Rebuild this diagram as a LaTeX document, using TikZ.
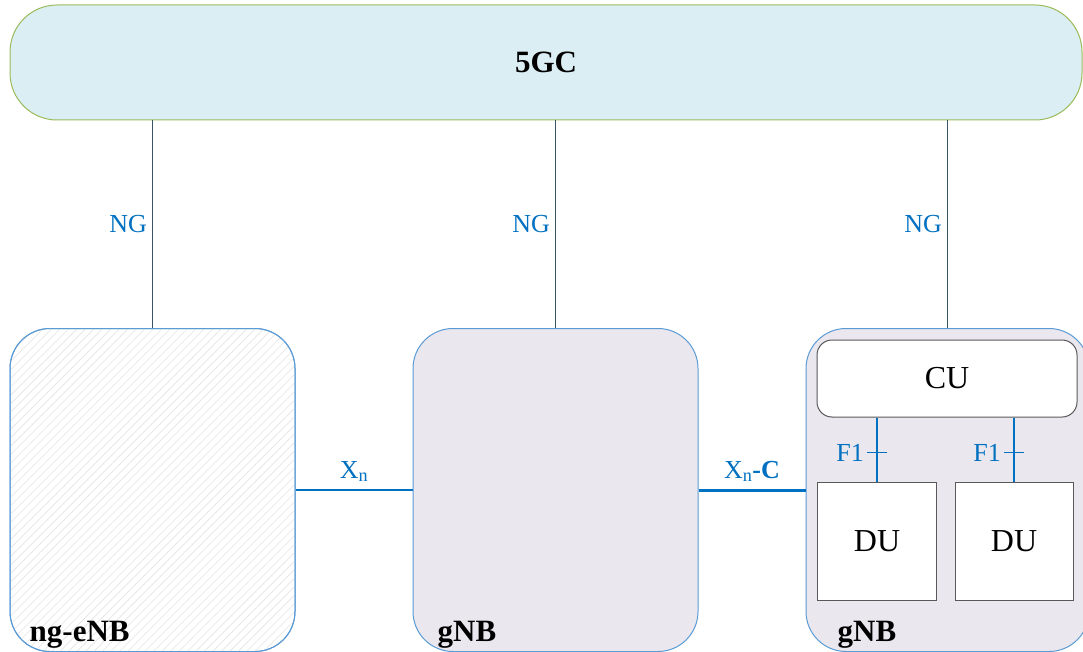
\documentclass[tikz,border=0pt]{standalone}
\usepackage{fontspec}
\setmainfont{Liberation Serif}
\usetikzlibrary{patterns.meta}
\definecolor{coreFill}{RGB}{218,238,243}
\definecolor{coreEdge}{RGB}{155,187,89}
\definecolor{nodeEdge}{RGB}{91,155,213}
\definecolor{gnbFill}{RGB}{234,231,239}
\definecolor{ifBlue}{RGB}{0,112,192}
\definecolor{ngLine}{RGB}{55,85,100}
\definecolor{boxEdge}{RGB}{89,89,89}
\definecolor{hatch}{RGB}{228,228,228}
\tikzset{
  x=1pt, y=-1pt,
  ran/.style={draw=nodeEdge, line width=1pt, rectangle, rounded corners=40pt, inner sep=0pt,
    minimum width=#1, minimum height=323pt},
  unitbox/.style={draw=boxEdge, line width=1pt, fill=white, rectangle, inner sep=0pt,
    font=\fontsize{32}{36}\selectfont},
  ngwire/.style={draw=ngLine, line width=1.3pt},
  xwire/.style={draw=ifBlue, line width=1.6pt},
  iflabel/.style={text=ifBlue, inner sep=0pt, font=\fontsize{26}{29}\selectfont},
  namelabel/.style={anchor=base west, inner sep=0pt, font=\fontsize{31}{34}\selectfont\bfseries},
}
\begin{document}
\begin{tikzpicture}
\useasboundingbox (0,0) rectangle (1083,652);
\clip (0,0) rectangle (1083,652);

% core network
\node (core) [draw=coreEdge, fill=coreFill, line width=1pt, rectangle, rounded corners=47pt,
  minimum width=1072pt, minimum height=115pt, inner sep=0pt,
  font=\fontsize{31}{34}\selectfont\bfseries] at (546,62.5) {5GC};

% radio nodes
\node (enb) [ran=285pt, fill=white] at (152.5,490) {};
\path[pattern={Lines[angle=45, distance=6pt, line width=0.6pt]}, pattern color=hatch,
  rounded corners=40pt] (10.5,329) rectangle (294.5,651);
\node[ran=285pt] at (enb) {};
\node (gnbA) [ran=285pt, fill=gnbFill] at (555.5,490) {};
\node (gnbB) [ran=283pt, fill=gnbFill] at (947.5,490) {};

% split gNB: central unit and distributed units
\node (cu) [unitbox, rounded corners=15pt, minimum width=260pt, minimum height=77pt] at (947,378.5) {CU};
\node (du1) [unitbox, minimum width=119pt, minimum height=118pt] at (877,541) {DU};
\node (du2) [unitbox, minimum width=118pt, minimum height=118pt] at (1014,541) {DU};

% NG interfaces
\foreach \n in {enb, gnbA, gnbB}{
  \draw[ngwire] (\n.north |- core.south) -- (\n.north)
    node[midway, iflabel, anchor=east, xshift=-5pt] {NG};
}

% Xn interfaces
\draw[xwire, line width=2pt] (enb.east) -- (gnbA.west)
  node[midway, iflabel, anchor=base, yshift=12pt] {X\textsubscript{n}};
\draw[xwire, line width=3pt] (gnbA.east) -- (gnbB.west)
  node[midway, iflabel, anchor=base, yshift=12pt] {X\textsubscript{n}\textbf{-C}};

% F1 interfaces
\foreach \d in {du1, du2}{
  \draw[xwire, line width=2pt] (\d.north |- cu.south) -- (\d.north);
  \coordinate (\d tick) at ([yshift=29pt]\d.north);
  \draw[xwire] ([xshift=-10pt]\d tick) -- ([xshift=10pt]\d tick);
  \node[iflabel, anchor=east] at ([xshift=-13pt]\d tick) {F1};
}

% node names
\node[namelabel] at ([shift={(20,-11)}]enb.south west) {ng-eNB};
\node[namelabel] at ([shift={(25,-11)}]gnbA.south west) {gNB};
\node[namelabel] at ([shift={(32,-11)}]gnbB.south west) {gNB};
\end{tikzpicture}
\end{document}
